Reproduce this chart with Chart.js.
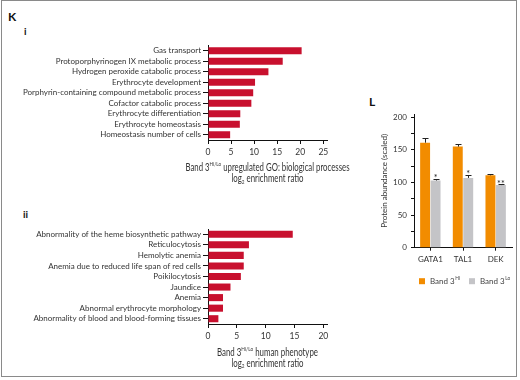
<!DOCTYPE html>
<html><head><meta charset="utf-8">
<script src="https://cdn.jsdelivr.net/npm/chart.js@4.4.1/dist/chart.umd.min.js"></script>
<style>
html,body{margin:0;padding:0;background:#fff;}
body{width:520px;height:380px;position:relative;overflow:hidden;font-family:Lato,sans-serif;}
#frame{position:absolute;left:1px;top:0;width:514px;height:375px;border:1px solid #8a8a8a;}
.lbl{position:absolute;font-weight:bold;color:#111;font-family:Lato,sans-serif;line-height:1;}
canvas{position:absolute;}
</style></head><body>
<div id="frame"></div>
<div class="lbl" style="left:8px;top:11px;font-size:12px">K</div>
<div class="lbl" style="left:24px;top:26px;font-size:10px">i</div>
<div class="lbl" style="left:23px;top:209px;font-size:10px">ii</div>
<div class="lbl" style="left:369px;top:96px;font-size:12px">L</div>
<canvas id="c1" width="360" height="150" style="left:0;top:38px"></canvas>
<canvas id="c2" width="360" height="152" style="left:0;top:218px"></canvas>
<canvas id="c3" width="145" height="190" style="left:372px;top:105px"></canvas>
<script>
// ---- data ----
const goCategories = ['Gas transport','Protoporphyrinogen IX metabolic process','Hydrogen peroxide catabolic process','Erythrocyte development','Porphyrin-containing compound metabolic process','Cofactor catabolic process','Erythrocyte differentiation','Erythrocyte homeostasis','Homeostasis number of cells'];
const goValues = [20.3, 16.2, 13.1, 10.2, 9.8, 9.4, 7.0, 6.9, 4.8];
const goTicks = [0, 5, 10, 15, 20, 25];

const hpCategories = ['Abnormality of the heme biosynthetic pathway','Reticulocytosis','Hemolytic anemia','Anemia due to reduced life span of red cells','Poikilocytosis','Jaundice','Anemia','Abnormal erythrocyte morphology','Abnormality of blood and blood-forming tissues'];
const hpValues = [14.7, 7.1, 6.2, 6.2, 5.7, 3.9, 2.6, 2.6, 1.8];
const hpTicks = [0, 5, 10, 15, 20];

const genes = ['GATA1','TAL1','DEK'];
const hiValues = [161, 155, 111];
const hiErrors = [7, 4, 2.5];
const loValues = [103, 107, 96];
const loErrors = [3, 4.5, 1.5];
const significance = ['*','*','**'];
const abundanceTicks = [0, 50, 100, 150, 200];

const seriesNames = [['Band 3', 'Hi'], ['Band 3', 'Lo']];
const goTitle = [[['Band 3',0],['Hi/Lo',1],[' upregulated GO: biological processes',0]],[['log',0],['2',-1],[' enrichment ratio',0]]];
const hpTitle = [[['Band 3',0],['Hi/Lo',1],[' human phenotype',0]],[['log',0],['2',-1],[' enrichment ratio',0]]];

const RED = '#c8102e', ORANGE = '#f28c00', GRAY = '#c4c4c7', TXT = '#333';
const FONT = 'Lato';

// ---- plugins ----
const axisTitlePlugin = {
  id: 'axisTitle',
  afterDraw(chart, args, opts) {
    if (!opts.lines) return;
    const ctx = chart.ctx, xs = chart.scales.x;
    const cx = (xs.left + xs.right) / 2;
    const S = opts.size;
    ctx.save();
    ctx.fillStyle = TXT;
    ctx.textBaseline = 'middle';
    ctx.textAlign = 'left';
    opts.lines.forEach((line, li) => {
      const fonts = line.map(s => (s[1] ? (S * 0.6) : S) + 'px ' + FONT);
      let w = 0;
      line.forEach((s, k) => { ctx.font = fonts[k]; w += ctx.measureText(s[0]).width; });
      const sc = Math.min(1, opts.widths[li] / w);
      ctx.save();
      ctx.translate(cx - w * sc / 2, opts.y[li]);
      ctx.scale(sc, 1);
      let x = 0;
      line.forEach((s, k) => {
        ctx.font = fonts[k];
        const dy = s[1] === 1 ? -S * 0.38 : (s[1] === -1 ? S * 0.3 : 0);
        ctx.fillText(s[0], x, dy);
        x += ctx.measureText(s[0]).width;
      });
      ctx.restore();
    });
    ctx.restore();
  }
};

const errorBarPlugin = {
  id: 'errorBars',
  afterDatasetsDraw(chart, args, opts) {
    if (!opts.errors) return;
    const ctx = chart.ctx, ys = chart.scales.y;
    ctx.save();
    ctx.strokeStyle = '#222';
    ctx.lineWidth = 1;
    opts.errors.forEach((errs, d) => {
      const meta = chart.getDatasetMeta(d);
      const vals = chart.data.datasets[d].data;
      meta.data.forEach((bar, i) => {
        const yTop = ys.getPixelForValue(vals[i] + errs[i]);
        const x = Math.round(bar.x) + 0.5;
        ctx.beginPath();
        ctx.moveTo(x, bar.y);
        ctx.lineTo(x, Math.round(yTop) + 0.5);
        ctx.moveTo(x - 3, Math.round(yTop) + 0.5);
        ctx.lineTo(x + 3, Math.round(yTop) + 0.5);
        ctx.stroke();
        if (opts.stars && opts.stars[d]) {
          ctx.fillStyle = '#222';
          ctx.font = '9px ' + FONT;
          ctx.textAlign = 'center';
          ctx.textBaseline = 'bottom';
          ctx.fillText(opts.stars[d][i], bar.x, yTop + 4);
        }
      });
    });
    ctx.restore();
  }
};

// legend drawn from the datasets' own labels and colours
const boxLegendPlugin = {
  id: 'boxLegend',
  afterDraw(chart, args, opts) {
    if (!opts.display) return;
    const ctx = chart.ctx, ca = chart.chartArea;
    ctx.save();
    ctx.textBaseline = 'middle';
    ctx.textAlign = 'left';
    chart.data.datasets.forEach((ds, d) => {
      const bx = ca.left + opts.offsetX + d * opts.spacing;
      const by = ca.bottom + opts.offsetY;
      ctx.fillStyle = ds.backgroundColor;
      ctx.fillRect(bx, by - opts.box / 2, opts.box, opts.box);
      ctx.fillStyle = '#444';
      ctx.font = opts.size + 'px ' + FONT;
      let x = bx + opts.box + 5;
      ctx.fillText(ds.label[0], x, by);
      x += ctx.measureText(ds.label[0]).width + 0.5;
      ctx.font = (opts.size * 0.6) + 'px ' + FONT;
      ctx.fillText(ds.label[1], x, by - opts.size * 0.35);
    });
    ctx.restore();
  }
};
Chart.register(axisTitlePlugin, errorBarPlugin, boxLegendPlugin);

function hbarConfig(labels, values, tickVals, max, padTop, xHeight, title, titleY, widths) {
  return {
    type: 'bar',
    data: { labels: labels, datasets: [{ data: values, backgroundColor: RED, barPercentage: 0.67, categoryPercentage: 1 }] },
    options: {
      indexAxis: 'y', responsive: false, animation: false,
      layout: { padding: { top: padTop, right: 33, left: 0, bottom: 0 } },
      plugins: { legend: { display: false }, tooltip: { enabled: false },
        axisTitle: { lines: title, y: titleY, size: 10.5, widths: widths } },
      scales: {
        x: { min: 0, max: max,
          afterBuildTicks: s => { s.ticks = tickVals.map(v => ({ value: v })); },
          ticks: { font: { family: FONT, size: 8.5 }, color: TXT, padding: 3, maxRotation: 0, autoSkip: false },
          grid: { drawOnChartArea: false, tickLength: 4, color: '#111' },
          border: { color: '#111', width: 1 },
          afterFit: s => { s.height = xHeight; } },
        y: { ticks: { font: { family: FONT, size: 8 }, color: TXT, padding: 2, autoSkip: false },
          grid: { drawOnChartArea: false, tickLength: 5, color: '#111', offset: false },
          border: { color: '#111', width: 1 },
          afterFit: s => { s.width = 208; } }
      }
    }
  };
}

new Chart(document.getElementById('c1'), hbarConfig(goCategories, goValues, goTicks, 25.8, 7.5, 48, goTitle, [130, 140.5], [164, 72]));
new Chart(document.getElementById('c2'), hbarConfig(hpCategories, hpValues, hpTicks, 20.64, 11, 46, hpTitle, [134.7, 145.3], [101, 72]));

new Chart(document.getElementById('c3'), {
  type: 'bar',
  data: { labels: genes, datasets: [
    { label: seriesNames[0], data: hiValues, backgroundColor: ORANGE, categoryPercentage: 0.64, barPercentage: 0.95 },
    { label: seriesNames[1], data: loValues, backgroundColor: GRAY, categoryPercentage: 0.64, barPercentage: 0.95 }
  ] },
  options: {
    responsive: false, animation: false,
    layout: { padding: { top: 9, right: 5, left: 0, bottom: 28 } },
    plugins: {
      tooltip: { enabled: false },
      legend: { display: false },
      boxLegend: { display: true, offsetX: 5, offsetY: 33.5, spacing: 50, box: 6, size: 8 },
      errorBars: { errors: [hiErrors, loErrors], stars: [null, significance] }
    },
    scales: {
      x: { ticks: { font: { family: FONT, size: 8 }, color: TXT, padding: 4 },
        grid: { drawOnChartArea: false, tickLength: 3, color: '#111', offset: false },
        border: { color: '#111', width: 1 },
        afterFit: s => { s.height = 19.3; } },
      y: { min: 0, max: 205,
        afterBuildTicks: s => { const t = []; for (let v = 0; v <= 200; v += 25) t.push({ value: v }); s.ticks = t; },
        ticks: { font: { family: FONT, size: 8 }, color: TXT, padding: 4,
          callback: v => (abundanceTicks.includes(v) ? String(v) : '') },
        grid: { drawOnChartArea: false, tickLength: 3, color: '#111' },
        border: { color: '#111', width: 1 },
        title: { display: true, text: 'Protein abundance (scaled)', font: { family: FONT, size: 8 }, color: TXT, padding: { top: 8, bottom: 0 } },
        afterFit: s => { s.width = 42; } }
    }
  }
});
</script>
</body></html>
